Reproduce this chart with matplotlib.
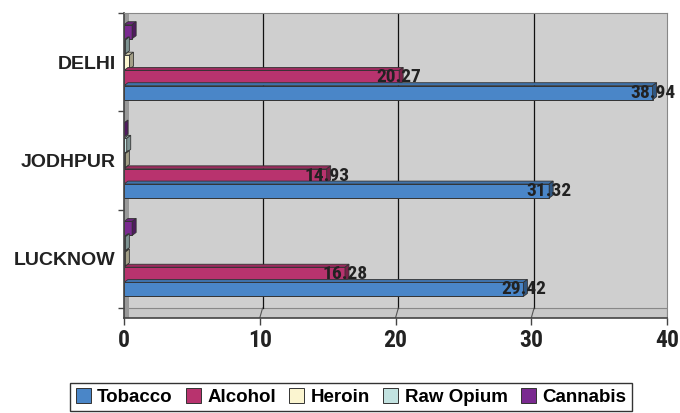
import matplotlib
matplotlib.use("Agg")
import matplotlib.pyplot as plt
from matplotlib.patches import Polygon, Rectangle
from matplotlib.colors import to_rgb
import numpy as np

cities = ["LUCKNOW", "JODHPUR", "DELHI"]
series = ["Tobacco", "Alcohol", "Heroin", "Raw Opium", "Cannabis"]
tobacco = [29.42, 31.32, 38.94]
alcohol = [16.28, 14.93, 20.27]
heroin = [0.1, 0.1, 0.4]
raw_opium = [0.1, 0.2, 0.1]
cannabis = [0.6, 0.0, 0.6]
values = [tobacco, alcohol, heroin, raw_opium, cannabis]
labelled = [True, True, False, False, False]
colors = ["#4a86c8", "#b8336e", "#fbf5d0", "#c2e2e0", "#7a2a90"]
xticks = [0, 10, 20, 30, 40]

narrow = ["Roboto Condensed", "Liberation Sans", "DejaVu Sans"]
sans = ["Liberation Sans", "DejaVu Sans"]

W, H = 680, 413
fig = plt.figure(figsize=(W / 100, H / 100), dpi=100)
ax_l, ax_r, ax_t, ax_b = 124, 667, 13, 318
ax = fig.add_axes([ax_l / W, 1 - ax_b / H, (ax_r - ax_l) / W, (ax_b - ax_t) / H])
xmin, xmax = 0, 40
ymin, ymax = -0.60, 2.5
ax.set_xlim(xmin, xmax)
ax.set_ylim(ymin, ymax)
ax.set_facecolor("#cfcfcf")

px_x = (xmax - xmin) / (ax_r - ax_l)
px_y = (ymax - ymin) / (ax_b - ax_t)
dx, dy = 4 * px_x, 3 * px_y

# floor / left wall / grid
ax.add_patch(Polygon([[xmin, ymin], [xmax, ymin], [xmax, -0.5], [xmin + dx, -0.5]],
                     closed=True, facecolor="#c8c8c8", edgecolor="#888888", lw=0.8, zorder=0.5))
ax.add_patch(Rectangle((0, ymin), 5 * px_x, ymax - ymin, facecolor="#999999",
                       edgecolor="none", zorder=0.6))
for g in xticks[1:-1]:
    ax.plot([g + dx * 0.7, g + dx * 0.7], [-0.5, ymax], color="#111111", lw=0.9, zorder=0.7)
    ax.plot([g, g + dx * 0.7], [ymin, -0.5], color="#555555", lw=0.8, zorder=0.7)

slot = 0.155
bh = 0.142
y = np.arange(len(cities))


def darker(c, f):
    r, g, b = to_rgb(c)
    return (r * f, g * f, b * f)


for i, (name, vals, col) in enumerate(zip(series, values, colors)):
    yc = y + (i - 2) * slot
    z = 2 + (5 - i) * 0.1
    ax.barh(yc, vals, height=bh, color=col, edgecolor="#333333", lw=0.7,
            label=name, zorder=z)
    for yy, v in zip(yc, vals):
        y0, y1 = yy - bh / 2, yy + bh / 2
        ax.add_patch(Polygon([[0, y1], [v, y1], [v + dx, y1 + dy], [dx, y1 + dy]],
                             closed=True, facecolor=darker(col, 0.85), edgecolor="#333333",
                             lw=0.6, zorder=z))
        ax.add_patch(Polygon([[v, y0], [v, y1], [v + dx, y1 + dy], [v + dx, y0 + dy]],
                             closed=True, facecolor=darker(col, 0.65), edgecolor="#333333",
                             lw=0.6, zorder=z))
    if labelled[i]:
        for yy, v in zip(yc, vals):
            ax.text(v, yy, f"{v:.2f}", ha="center", va="center", fontsize=14,
                    fontweight="bold", family=narrow, color="#222222", zorder=5)

for s in ["top", "right"]:
    ax.spines[s].set_color("#888888")
    ax.spines[s].set_linewidth(0.8)
for s in ["bottom", "left"]:
    ax.spines[s].set_color("#444444")
    ax.spines[s].set_linewidth(1.2)

ax.set_xticks(xticks)
ax.set_xticklabels([str(t) for t in xticks], fontsize=17, fontweight="bold",
                   family=narrow, color="#222222")
ax.tick_params(axis="x", length=5, width=1, color="#444444", pad=3)

ax.set_yticks(y)
ax.set_yticklabels(cities, fontsize=14, fontweight="bold", family=sans, color="#222222")
ax.set_yticks([-0.5, 0.5, 1.5, 2.5], minor=True)
ax.tick_params(axis="y", which="major", length=0, pad=6)
ax.tick_params(axis="y", which="minor", length=4, width=1, color="#444444")

leg = fig.legend(loc="center", bbox_to_anchor=(351 / W, 1 - 397 / H), ncol=5,
                 prop={"family": sans, "weight": "bold", "size": 13.5},
                 frameon=True, fancybox=False, edgecolor="#000000",
                 handlelength=0.8, handleheight=0.8, handletextpad=0.35,
                 columnspacing=0.7, borderpad=0.3, borderaxespad=0)
leg.get_frame().set_linewidth(1.0)

fig.savefig("out.png", dpi=100, facecolor="white")
